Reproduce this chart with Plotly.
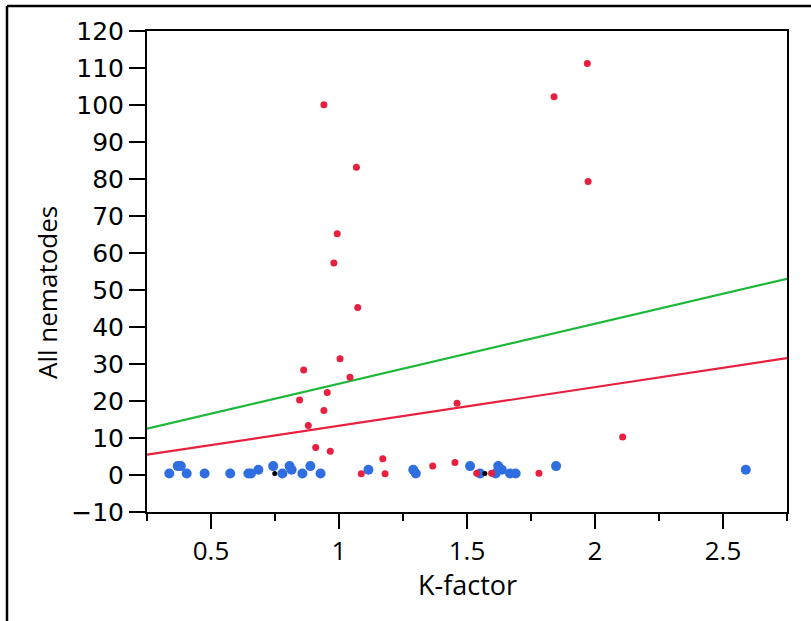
import plotly.graph_objects as go

# ---- data ----
red_x = [0.941, 1.068, 0.993, 0.980, 1.073, 1.004, 0.862, 1.043, 0.954, 0.846,
         0.941, 0.880, 0.909, 0.966, 1.171, 1.087, 1.180, 1.366, 1.453, 1.461,
         1.538, 1.596, 1.781, 1.970, 1.840, 1.973, 2.108]
red_y = [100.1, 83.2, 65.2, 57.3, 45.3, 31.4, 28.4, 26.4, 22.3, 20.3,
         17.4, 13.4, 7.4, 6.4, 4.4, 0.35, 0.35, 2.4, 3.4, 19.4,
         0.45, 0.45, 0.45, 111.2, 102.2, 79.3, 10.3]

blue_x = [0.337, 0.370, 0.382, 0.405, 0.475, 0.575, 0.646, 0.656, 0.685, 0.743,
          0.779, 0.807, 0.815, 0.857, 0.888, 0.928, 1.115, 1.290, 1.300, 1.512,
          1.551, 1.612, 1.622, 1.636, 1.668, 1.690, 1.848, 2.589]
blue_y = [0.4, 2.4, 2.4, 0.4, 0.4, 0.4, 0.4, 0.4, 1.4, 2.4,
          0.4, 2.4, 1.4, 0.4, 2.4, 0.4, 1.4, 1.4, 0.4, 2.4,
          0.4, 0.4, 2.4, 1.4, 0.4, 0.4, 2.4, 1.4]

black_x = [0.749, 1.570]
black_y = [0.4, 0.4]

# regression fits: intercept, slope
green_fit = (8.47, 16.2)
red_fit = (2.87, 10.44)

x_range = [0.25, 2.75]
y_range = [-10, 120]
y_ticks = list(range(-10, 121, 10))
x_ticks = [0.5, 1, 1.5, 2, 2.5]
x_ticktext = ["0.5", "1", "1.5", "2", "2.5"]

RED = "#e8203f"
BLUE = "#2e6ee0"
GREEN = "#1db83a"

fig = go.Figure()

line_x = x_range
fig.add_trace(go.Scatter(x=line_x, y=[green_fit[0] + green_fit[1] * v for v in line_x],
                         mode="lines", line=dict(color=GREEN, width=2.2), hoverinfo="skip"))
fig.add_trace(go.Scatter(x=line_x, y=[red_fit[0] + red_fit[1] * v for v in line_x],
                         mode="lines", line=dict(color=RED, width=2.2), hoverinfo="skip"))
fig.add_trace(go.Scatter(x=blue_x, y=blue_y, mode="markers",
                         marker=dict(color=BLUE, size=10, line=dict(width=0))))
fig.add_trace(go.Scatter(x=red_x, y=red_y, mode="markers",
                         marker=dict(color=RED, size=7, line=dict(width=0))))
fig.add_trace(go.Scatter(x=black_x, y=black_y, mode="markers",
                         marker=dict(color="black", size=5, line=dict(width=0))))

L, R, T, B = 147, 24, 31, 109
W, H = 811, 621
pw, ph = W - L - R, H - T - B

def px(xp):
    return (xp - L) / pw

def py(yp):
    return (H - B - yp) / ph

fig.update_layout(
    width=W, height=H,
    margin=dict(l=L, r=R, t=T, b=B),
    paper_bgcolor="white", plot_bgcolor="white",
    showlegend=False,
    xaxis=dict(range=x_range, tickvals=x_ticks, ticktext=x_ticktext,
               showgrid=False, zeroline=False,
               showline=True, mirror=True, linecolor="black", linewidth=2,
               ticks="outside", ticklen=15, tickwidth=2, tickcolor="black",
               tickfont=dict(family="Open Sans", size=26, color="black"),
               minor=dict(tick0=0.25, dtick=0.25, ticks="outside", ticklen=7,
                          tickwidth=2, tickcolor="black")),
    yaxis=dict(range=y_range, tickvals=y_ticks,
               showgrid=False, zeroline=False,
               showline=True, mirror=True, linecolor="black", linewidth=2,
               ticks="outside", ticklen=16, tickwidth=2, tickcolor="black",
               tickfont=dict(family="DejaVu Sans", size=25, color="black")),
    annotations=[
        dict(text="K-factor", xref="paper", yref="paper", x=px(467), y=py(584),
             xanchor="center", yanchor="middle", showarrow=False,
             font=dict(family="Open Sans", size=27, color="black")),
        dict(text="All nematodes", xref="paper", yref="paper", x=px(47), y=py(293),
             xanchor="center", yanchor="middle", showarrow=False, textangle=-90,
             font=dict(family="Open Sans", size=26, color="black")),
    ],
    shapes=[
        dict(type="line", xref="paper", yref="paper", x0=px(7), x1=px(W), y0=py(6), y1=py(6),
             line=dict(color="black", width=2.5)),
        dict(type="line", xref="paper", yref="paper", x0=px(7), x1=px(7), y0=py(6), y1=py(H),
             line=dict(color="black", width=2.5)),
    ],
)

fig.write_html("out.html")
